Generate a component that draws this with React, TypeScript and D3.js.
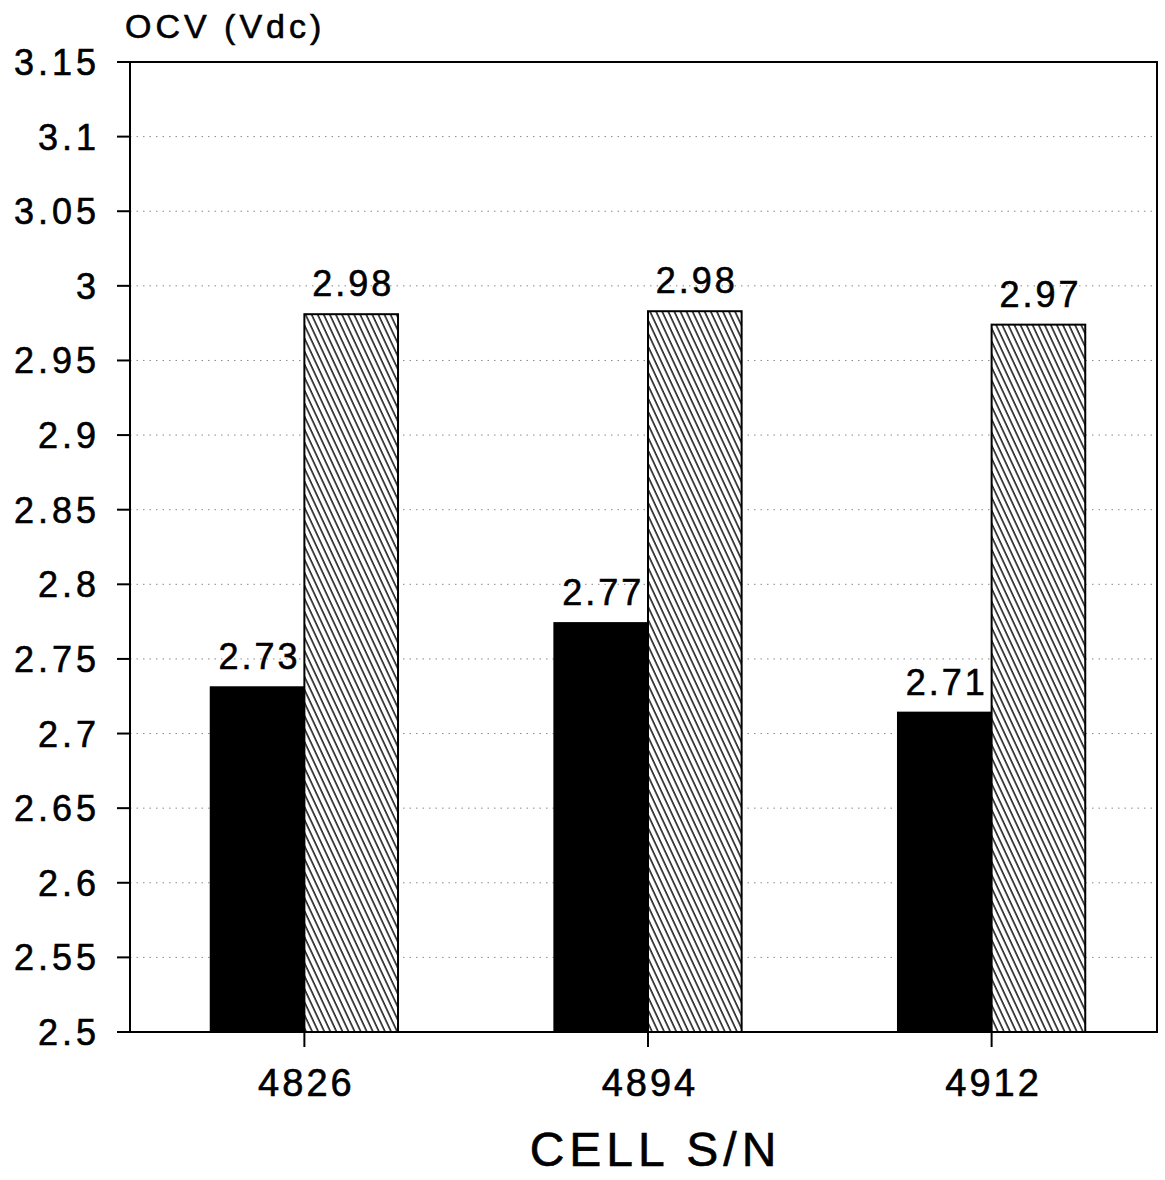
import React from "react";
import * as d3 from "d3";

const categories = ["4826", "4894", "4912"];
const seriesBefore = [2.731, 2.774, 2.714];
const seriesAfter = [2.981, 2.983, 2.974];
const yTicks = [2.5, 2.55, 2.6, 2.65, 2.7, 2.75, 2.8, 2.85, 2.9, 2.95, 3, 3.05, 3.1, 3.15];
const yTitle = "OCV (Vdc)";
const xTitle = "CELL S/N";

const W = 1165;
const H = 1180;
const margin = { left: 130, right: 8, top: 62, bottom: 148 };
const FONT = "'Liberation Sans', Arial, Helvetica, sans-serif";
const TXT = { fontFamily: FONT, fill: "#000", stroke: "#000", strokeWidth: 0.6 };

export default function App() {
  const x0 = margin.left;
  const x1 = W - margin.right;
  const y0 = H - margin.bottom;
  const y1 = margin.top;

  const x = d3.scaleBand<string>().domain(categories).range([x0, x0 + 1036]).paddingInner(0.455).paddingOuter(0.235);
  const inner = d3.scaleBand<string>().domain(["before", "after"]).range([0, x.bandwidth()]);
  const y = d3.scaleLinear().domain([2.5, 3.15]).range([y0, y1]);
  const fmt = d3.format(".2f");

  const bars: { cat: string; key: string; v: number }[] = [];
  categories.forEach((c, i) => {
    bars.push({ cat: c, key: "before", v: seriesBefore[i] });
    bars.push({ cat: c, key: "after", v: seriesAfter[i] });
  });

  return (
    <svg width={W} height={H} style={{ display: "block", position: "absolute", left: 0, top: 0, background: "#fff" }}>
      <defs>
        <pattern id="hatch" patternUnits="userSpaceOnUse" width="5.5" height="10" patternTransform="rotate(-25)">
          <rect width="5.5" height="10" fill="#fff" />
          <line x1="1" y1="0" x2="1" y2="10" stroke="#000" strokeWidth="1.4" />
        </pattern>
      </defs>
      <rect x={0} y={0} width={W} height={H} fill="#fff" />
      {/* grid */}
      {yTicks.slice(1, -1).map((t) => (
        <line key={"g" + t} x1={x0} x2={x1} y1={y(t)} y2={y(t)} stroke="#8a8a8a" strokeWidth={1} strokeDasharray="1.5,5" />
      ))}
      {/* bars */}
      {bars.map((b) => (
        <rect
          key={b.cat + b.key}
          x={(x(b.cat) as number) + (inner(b.key) as number)}
          y={y(b.v)}
          width={inner.bandwidth()}
          height={y0 - y(b.v)}
          fill={b.key === "before" ? "#000" : "url(#hatch)"}
          stroke="#000"
          strokeWidth={2}
        />
      ))}
      {/* value labels */}
      {bars.map((b) => (
        <text
          key={"l" + b.cat + b.key}
          x={(x(b.cat) as number) + (inner(b.key) as number) + inner.bandwidth() / 2 + 2}
          y={y(b.v) - 18}
          textAnchor="middle"
          fontSize={36}
          letterSpacing={3}
          {...TXT}
        >
          {fmt(b.v)}
        </text>
      ))}
      {/* frame */}
      <rect x={x0} y={y1} width={x1 - x0} height={y0 - y1} fill="none" stroke="#000" strokeWidth={2} />
      {/* y ticks */}
      {yTicks.map((t) => (
        <g key={"t" + t}>
          <line x1={x0 - 13} x2={x0} y1={y(t)} y2={y(t)} stroke="#000" strokeWidth={2} />
          <text x={x0 - 30} y={y(t) + 13} textAnchor="end" fontSize={36} letterSpacing={4} {...TXT}>
            {String(t)}
          </text>
        </g>
      ))}
      {/* x ticks */}
      {categories.map((c) => {
        const cx = (x(c) as number) + x.bandwidth() / 2;
        return (
          <g key={"x" + c}>
            <line x1={cx} x2={cx} y1={y0} y2={y0 + 15} stroke="#000" strokeWidth={2} />
            <text x={cx + 2} y={y0 + 64} textAnchor="middle" fontSize={38} letterSpacing={3} {...TXT}>
              {c}
            </text>
          </g>
        );
      })}
      <text x={125} y={38} fontSize={34} letterSpacing={4} {...TXT}>
        {yTitle}
      </text>
      <text x={(x0 + x1) / 2 + 12} y={1166} textAnchor="middle" fontSize={48} letterSpacing={5} {...TXT}>
        {xTitle}
      </text>
    </svg>
  );
}
